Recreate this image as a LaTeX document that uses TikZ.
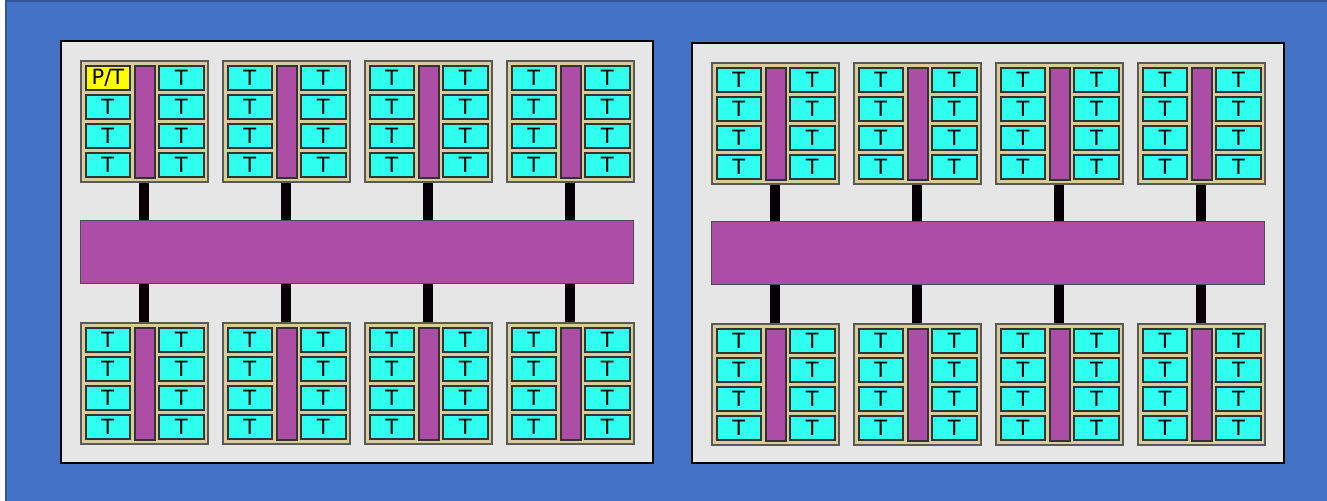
\documentclass[tikz,border=0pt]{standalone}
\usepackage{fontspec}
\setsansfont{DejaVu Sans}
\usepackage{tikz}
\definecolor{bgblue}{HTML}{4472C4}
\definecolor{bgedge}{HTML}{2F5597}
\definecolor{panelgray}{HTML}{E6E6E6}
\definecolor{modtan}{HTML}{D8CC98}
\definecolor{tilecyan}{HTML}{2EFFEE}
\definecolor{busviolet}{HTML}{AC4EA6}
\definecolor{ptyellow}{HTML}{FFFF00}
\tikzstyle{panel} = [draw=black, fill=panelgray, line width=0.7pt]
\tikzstyle{module} = [draw=black!65, fill=modtan, line width=0.8pt,
  anchor=north west, inner sep=0pt, minimum width=63.5pt, minimum height=60.5pt]
\tikzstyle{tile} = [draw=black!80, fill=tilecyan, line width=0.9pt,
  anchor=north west, inner sep=0pt, minimum width=22pt, minimum height=12pt,
  font=\sffamily\fontsize{10.5}{11}\selectfont]
\tikzstyle{ptile} = [tile, fill=ptyellow]
\tikzstyle{localbus} = [draw=black!80, fill=busviolet, line width=0.9pt,
  anchor=north west, inner sep=0pt, minimum width=10pt, minimum height=56pt]
\tikzstyle{bus} = [draw=black!70, fill=busviolet, line width=0.6pt,
  anchor=north west, inner sep=0pt, minimum width=276.5pt, minimum height=31.5pt]
\tikzstyle{link} = [draw=black!95!violet, line width=5pt]

% one module: name, left, top, style of first tile, its text
\newcommand{\cpumod}[5]{
  \node[module] (#1) at (#2,#3) {};
  \node[#4] (#1-l1) at (#2+5,#3+5) {#5};
  \foreach \j/\yy in {2/34,3/63,4/92}
    \node[tile] (#1-l\j) at (#2+5,#3+\yy) {T};
  \node[localbus] (#1-bar) at (#2+54,#3+5) {};
  \foreach \j/\yy in {1/5,2/34,3/63,4/92}
    \node[tile, minimum width=22.5pt] (#1-r\j) at (#2+78,#3+\yy) {T};
}

\begin{document}
\begin{tikzpicture}[x=0.5pt, y=-0.5pt]
    \useasboundingbox (0,0) rectangle (1327,500);
    \begin{scope}
        \clip (0,0) rectangle (1327,500);
        \draw[fill=bgblue, draw=bgedge, line width=1pt] (6,1) rectangle (1335,510);
    \end{scope}

    % left board
    \draw[panel] (61,41) rectangle (653,463);
    \node[bus] (busA) at (80,220) {};
    \cpumod{a1}{80}{60}{ptile}{P/T}
    \foreach \i/\x in {2/222,3/364,4/506}
        \cpumod{a\i}{\x}{60}{tile}{T};
    \foreach \i/\x in {5/80,6/222,7/364,8/506}
        \cpumod{a\i}{\x}{322}{tile}{T};
    \foreach \i in {1,...,4}
        \draw[link] (a\i.south) -- (busA.north -| a\i.south);
    \foreach \i in {5,...,8}
        \draw[link] (a\i.north) -- (busA.south -| a\i.north);

    % right board
    \draw[panel] (692,43) rectangle (1284,463);
    \node[bus] (busB) at (711,221) {};
    \foreach \i/\x in {1/711,2/853,3/995,4/1137}
        \cpumod{b\i}{\x}{62}{tile}{T};
    \foreach \i/\x in {5/711,6/853,7/995,8/1137}
        \cpumod{b\i}{\x}{323}{tile}{T};
    \foreach \i in {1,...,4}
        \draw[link] (b\i.south) -- (busB.north -| b\i.south);
    \foreach \i in {5,...,8}
        \draw[link] (b\i.north) -- (busB.south -| b\i.north);
\end{tikzpicture}
\end{document}
